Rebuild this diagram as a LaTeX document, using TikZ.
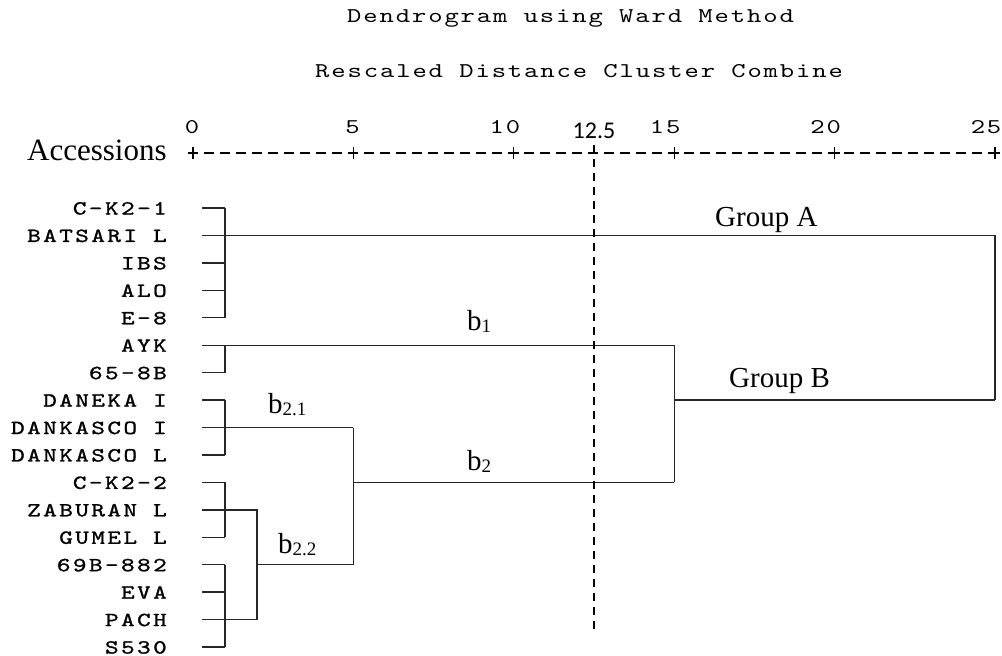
\documentclass[tikz,border=0pt]{standalone}
\usepackage{fontspec}
\setmainfont{Liberation Serif}
\newfontfamily\spssfont[Extension=.otf,FakeStretch=1.3,LetterSpace=12,FakeBold=1.2]{lmmono10-regular}
\newfontfamily\spsslight[Extension=.otf,FakeStretch=1.3,LetterSpace=9]{lmmono10-regular}
\newfontfamily\cutfont{Carlito}
\begin{document}
\begin{tikzpicture}[x=1pt,y=-1pt,
leaf/.style={anchor=base east,inner sep=0,font=\spssfont\fontsize{20}{22}\selectfont},
title/.style={anchor=base west,inner sep=0,font=\spsslight\fontsize{21}{23}\selectfont},
num/.style={anchor=base east,inner sep=0,font=\spsslight\fontsize{21}{23}\selectfont},
group/.style={anchor=base west,inner sep=0,font=\fontsize{29}{32}\selectfont},
branch/.style={anchor=base west,inner sep=0,font=\fontsize{29}{32}\selectfont},
tree/.style={line width=1.4pt,black!85},
axis/.style={line width=1.2pt,dash pattern=on 10pt off 6pt,dash phase=5pt},
cutline/.style={line width=1.8pt,dash pattern=on 7.5pt off 6.5pt},
]
\useasboundingbox(0,0)rectangle(1002,656);
\newcommand{\sub}[1]{\raisebox{-2pt}{\fontsize{19}{19}\selectfont#1}}

%title
\node[title]at(347,22)(title){Dendrogram using Ward Method};
\node[title]at(315,77)(subtitle){Rescaled Distance Cluster Combine};

%axis
\foreach \k in {0,...,25}\coordinate(k\k)at(193+32.08*\k,153);
\draw[axis](k0)--(k25);
\foreach \k in {0,5,...,25}{
\draw[line width=1.2pt]([yshift=6pt]k\k)--([yshift=-6pt]k\k);
\draw[line width=1.2pt]([xshift=-5pt]k\k)--([xshift=5pt]k\k);
\node[num]at([xshift=6.5pt,yshift=20pt]k\k)(n\k){\k};
}
\node[anchor=base west,inner sep=0,font=\fontsize{31}{34}\selectfont]at(27,160)(accessions){Accessions};

%leaves
\foreach \lab [count=\i from 0] in {C-K2-1,BATSARI L,IBS,ALO,E-8,AYK,65-8B,DANEKA I,DANKASCO I,DANKASCO L,C-K2-2,ZABURAN L,GUMEL L,69B-882,EVA,PACH,S530}{
\node[leaf]at(167,208+27.44*\i+6.5)(acc\i){\lab};
\coordinate(s\i)at(202,208+27.44*\i);
\coordinate(t\i)at(225,208+27.44*\i);
\draw[tree](s\i)--(t\i);
}

%group A
\draw[tree](t0)--(t4);
\draw[tree](t1)--(t1-|k25)coordinate(rA);
%b1
\draw[tree](t5)--(t6);
\draw[tree](t5)--(t5-|k15)coordinate(rb1);
%b2.1
\draw[tree](t7)--(t9);
\draw[tree](t8)--(t8-|k5)coordinate(rb21);
%b2.2
\draw[tree](t10)--(t12);
\draw[tree](t13)--(t16);
\draw[tree](t11)--(t11-|k2)--(t15-|k2)--(t15);
\draw[tree](t13-|k2)--(t13-|k5)coordinate(rb22);
%b2
\draw[tree](rb21)--(rb22);
\draw[tree](t10-|k5)--(t10-|k15)coordinate(rb2);
%group B
\draw[tree](rb1)--(rb2);
\draw[tree](t7-|k15)--(t7-|k25)coordinate(rB);
\draw[tree](rA)--(rB);

%cut
\coordinate(cut)at(594,145);
\coordinate(cutend)at(594,629);
\draw[cutline](cut)--(cutend);
\node[anchor=base,inner sep=0,font=\cutfont\fontsize{24}{26}\selectfont]at(594,138)(cutlab){12.5};

%labels
\node[group]at(715,226)(groupA){Group A};
\node[group]at(729,387)(groupB){Group B};
\node[branch]at(467,330)(b1){b\sub{1}};
\node[branch]at(467,470)(b2){b\sub{2}};
\node[branch]at(268,413)(b21){b\sub{2.1}};
\node[branch]at(278,553)(b22){b\sub{2.2}};
\end{tikzpicture}
\end{document}
